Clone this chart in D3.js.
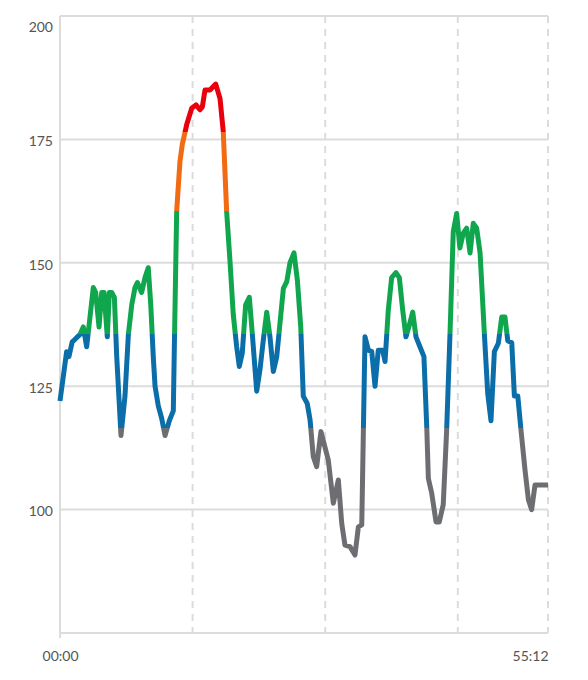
<!DOCTYPE html>
<html>
<head>
<meta charset="utf-8">
<script src="https://cdn.jsdelivr.net/npm/d3@7"></script>
<style>
  html, body { margin: 0; padding: 0; background: #fff; }
  svg { display: block; }
  .tick text { font-family: Lato, "Open Sans", sans-serif; font-size: 14px; fill: #555; }
</style>
</head>
<body>
<svg id="chart" width="588" height="680"></svg>
<script>
// elapsed time in seconds
const times = [0, 45, 61, 83, 102, 136, 158, 181, 226, 242, 265, 283, 299, 321, 335, 351, 369, 385, 414,
  441, 464, 487, 509, 525, 554, 577, 599, 616, 633, 645, 667, 690, 713, 742, 769, 776,
  792, 814, 830, 860, 894, 923, 950, 966, 984, 1018, 1034, 1057, 1086, 1108, 1131, 1154, 1176, 1199, 1217,
  1237, 1260, 1285, 1305, 1335, 1357, 1380, 1403, 1425, 1448, 1471, 1516, 1539, 1561, 1588, 1611, 1634,
  1651, 1678, 1697, 1719, 1742, 1771, 1821, 1855, 1889, 1912, 1934, 1968, 2002, 2025, 2048,
  2070, 2093, 2116, 2138, 2160, 2190, 2206, 2228, 2251, 2280, 2303, 2326, 2348, 2371, 2394, 2416, 2443, 2470,
  2489, 2500, 2523, 2552, 2574, 2601, 2624, 2647, 2669, 2692, 2714, 2737, 2760, 2783, 2805, 2828, 2851,
  2880, 2903, 2925, 2948, 2975, 2998, 3020, 3039, 3066, 3084, 3107, 3129, 3156, 3179, 3201, 3224, 3258, 3312];
// heart rate (bpm)
const heartRate = [122, 132, 131, 134, 134.5, 135.5, 137, 133, 145, 144, 137, 144, 144, 135, 144, 144, 143, 131, 115,
  123, 135.5, 141.5, 145, 146, 144, 147, 149, 141.5, 131, 125, 121, 118.5, 115, 118, 120, 133,
  160.5, 170.5, 174, 178, 181.3, 182, 181, 181.6, 185, 185, 185.5, 186.2, 183.3, 176.6, 160.4, 150.2, 139.5, 133, 129,
  131.7, 141.5, 143, 135.7, 124, 128.3, 134.4, 140, 135, 128, 131, 144.8, 146.2, 150, 152, 146.5, 137,
  123, 121.5, 118.2, 110.7, 108.7, 115.8, 110, 101.3, 106, 97.2, 92.8, 92.5, 90.8, 96.5, 96.9,
  135, 132.3, 132, 125, 132.3, 132.3, 130, 140.4, 147, 148, 147, 140.4, 135, 137.4, 140, 135, 133, 131,
  116.8, 106.3, 103.3, 97.5, 97.5, 101, 116, 135.7, 156.3, 160, 153, 156, 157, 152, 158, 157, 152,
  135.7, 123.5, 118, 132, 133.7, 139, 139, 134.2, 133.8, 123, 123, 116, 108, 102, 100, 105, 105, 105];

const yTicks = [100, 125, 150, 175, 200];
const xGridTicks = [900, 1800, 2700, 3312];
const xLabelTicks = [0, 3312];
const zoneBreaks = [116.5, 135.5, 160.5, 176.6];
const zoneColors = ["#6d6e72", "#0b6ea9", "#10a64e", "#f26a12", "#e8000c"];

const svg = d3.select("#chart");
const mLeft = 60, mRight = 548, mTop = 16, mBottom = 633;

const x = d3.scaleLinear().domain([0, 3312]).range([mLeft, mRight]);
const y = d3.scaleLinear().domain([75, 200]).range([mBottom, mTop]);

const fmt = s => {
  const m = Math.floor(s / 60), sec = Math.round(s % 60);
  return String(m).padStart(2, "0") + ":" + String(sec).padStart(2, "0");
};

// horizontal gridlines
svg.append("g").selectAll("line").data([75, ...yTicks]).join("line")
  .attr("x1", mLeft).attr("x2", mRight)
  .attr("y1", d => y(d)).attr("y2", d => y(d))
  .attr("stroke", "#dcdcdc").attr("stroke-width", 2);

// vertical dashed gridlines
svg.append("g").selectAll("line").data(xGridTicks).join("line")
  .attr("x1", d => x(d)).attr("x2", d => x(d))
  .attr("y1", mTop).attr("y2", mBottom)
  .attr("stroke", "#dcdcdc").attr("stroke-width", 2)
  .attr("stroke-dasharray", "7,6");

// left axis line
svg.append("line")
  .attr("x1", mLeft).attr("x2", mLeft).attr("y1", mTop).attr("y2", mBottom + 5)
  .attr("stroke", "#dcdcdc").attr("stroke-width", 2);

// y axis labels
const yAxis = svg.append("g").attr("transform", `translate(${mLeft},0)`)
  .call(d3.axisLeft(y).tickValues(yTicks).tickSize(0).tickPadding(7));
yAxis.select(".domain").remove();
yAxis.selectAll(".tick text").attr("dy", d => d === 200 ? "1.1em" : "0.45em");

// x axis labels
const xAxis = svg.append("g").attr("transform", `translate(0,${mBottom})`)
  .call(d3.axisBottom(x).tickValues(xLabelTicks).tickSize(0).tickPadding(18).tickFormat(fmt));
xAxis.select(".domain").remove();
xAxis.selectAll(".tick text").attr("text-anchor", d => d === 3312 ? "end" : "middle");

// zone gradient
const grad = svg.append("defs").append("linearGradient")
  .attr("id", "zones").attr("gradientUnits", "userSpaceOnUse")
  .attr("x1", 0).attr("x2", 0).attr("y1", y(75)).attr("y2", y(200));
const frac = v => (v - 75) / (200 - 75);
zoneColors.forEach((c, i) => {
  const lo = i === 0 ? 0 : frac(zoneBreaks[i - 1]);
  const hi = i === zoneColors.length - 1 ? 1 : frac(zoneBreaks[i]);
  grad.append("stop").attr("offset", lo).attr("stop-color", c);
  grad.append("stop").attr("offset", hi).attr("stop-color", c);
});

const data = times.map((t, i) => [t, heartRate[i]]);
svg.append("path").datum(data)
  .attr("d", d3.line().x(d => x(d[0])).y(d => y(d[1])))
  .attr("fill", "none")
  .attr("stroke", "url(#zones)")
  .attr("stroke-width", 5)
  .attr("stroke-linejoin", "round")
  .attr("stroke-linecap", "butt");
</script>
</body>
</html>
